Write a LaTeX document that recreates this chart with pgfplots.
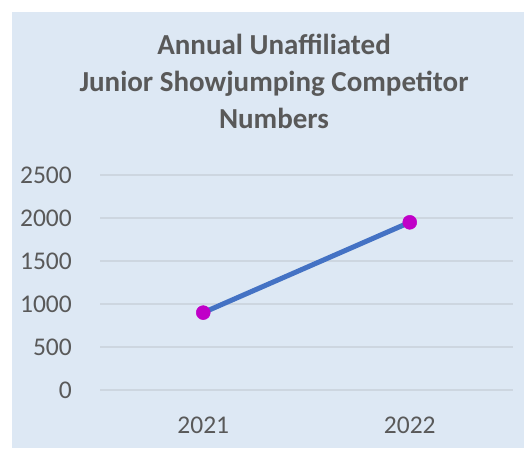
\documentclass[border=0pt]{standalone}
\usepackage{pgfplots}
\pgfplotsset{compat=1.18}
\usepackage{fontspec}
\setmainfont{Carlito}

\definecolor{bgblue}{HTML}{DDE8F4}
\definecolor{gridc}{HTML}{CDD6E0}
\definecolor{txtgray}{HTML}{595959}
\definecolor{lineblue}{HTML}{4472C4}
\definecolor{markmag}{HTML}{C000C8}

\begin{document}
\begin{tikzpicture}[x=1pt,y=1pt]
    \path[fill=white, use as bounding box] (0,0) rectangle (524,448);
    \fill[bgblue] (12,0) rectangle (524,436);
    \node[font=\fontsize{29}{37}\selectfont\bfseries, text=txtgray, align=center, anchor=center]
        at (274,367) {Annual Unaffiliated\\Junior Showjumping Competitor\\Numbers};
    \begin{axis}[
        at={(100pt,58pt)},
        anchor=south west,
        scale only axis,
        width=413pt,
        height=215pt,
        xmin=0, xmax=2,
        ymin=0, ymax=2500,
        xtick={0.5,1.5},
        xticklabels={2021,2022},
        ytick={0,500,1000,1500,2000,2500},
        ymajorgrids,
        major grid style={draw=gridc, line width=1.3pt},
        axis line style={draw=none},
        tick style={draw=none},
        ticklabel style={font=\fontsize{25.5}{25.5}\selectfont, text=txtgray, inner sep=0pt},
        yticklabel style={anchor=east, xshift=-28pt},
        xticklabel style={anchor=north, yshift=-27pt},
        /pgf/number format/assume math mode=true,
        /pgf/number format/1000 sep={},
        clip=false,
    ]
    \addplot[lineblue, line width=5pt, mark=*, mark size=7pt,
        mark options={fill=markmag, draw=markmag, line width=0.5pt}]
        coordinates {(0.5,900) (1.5,1950)};
    \end{axis}
\end{tikzpicture}
\end{document}
